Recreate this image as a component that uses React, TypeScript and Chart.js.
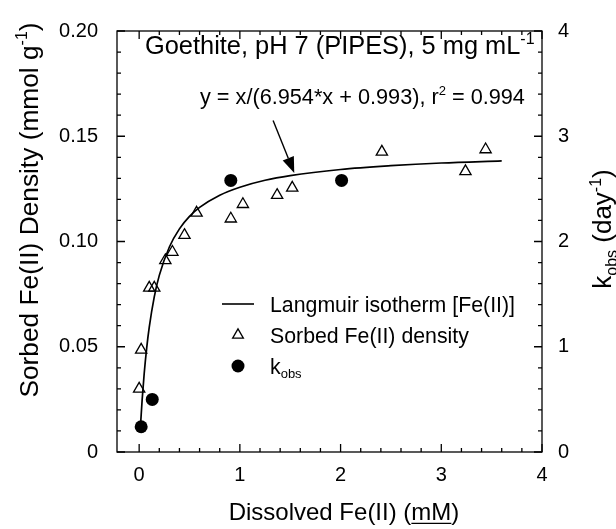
import React, { useEffect, useRef } from "react";
import { Chart, registerables } from "chart.js";

Chart.register(...registerables);

const FONT = '"Liberation Sans", Arial, Helvetica, sans-serif';

// Sorbed Fe(II) density (left axis, mmol/g) vs dissolved Fe(II) (mM)
const SORBED_X = [0.0, 0.02, 0.1, 0.15, 0.26, 0.33, 0.45, 0.57, 0.91, 1.03, 1.37, 1.52, 2.41, 3.24, 3.44];
const SORBED_Y = [0.03, 0.0485, 0.078, 0.078, 0.091, 0.095, 0.103, 0.1136, 0.1108, 0.1177, 0.122, 0.1255, 0.1426, 0.1333, 0.1437];

// k_obs (right axis, 1/day)
const KOBS_X = [0.02, 0.13, 0.91, 2.01];
const KOBS_Y = [0.24, 0.5, 2.58, 2.58];

// Langmuir isotherm curve
const FIT_X = [0.015, 0.03, 0.05, 0.075, 0.1, 0.15, 0.2, 0.3, 0.4, 0.5, 0.6, 0.8, 1.0, 1.25, 1.5, 2.0, 2.5, 3.0, 3.6];
const FIT_Y = [0.0137, 0.025, 0.0373, 0.0495, 0.0592, 0.0737, 0.0839, 0.0974, 0.106, 0.1119, 0.1162, 0.122, 0.1258, 0.1291, 0.1313, 0.1342, 0.136, 0.1373, 0.1383];

// axes
const X_RANGE = [-0.22, 4];
const Y_RANGE = [0, 0.2];
const K_RANGE = [0, 4];
const X_TICKS = [0, 1, 2, 3, 4];
const Y_TICKS = [0, 0.05, 0.1, 0.15, 0.2];
const K_TICKS = [0, 1, 2, 3, 4];
const X_MINOR = 0.2;
const Y_MINOR = 0.01;
const K_MINOR = 0.2;

// annotation arrow (data coords, left axis)
const ARROW_FROM = [1.33, 0.1575];
const ARROW_TO = [1.54, 0.1325];

type Seg = { t: string; mode?: "sup" | "sub" | "u" };

function fontFor(seg: Seg, size: number) {
  const s = seg.mode === "sup" || seg.mode === "sub" ? Math.round(size * 0.62) : size;
  return `${s}px ${FONT}`;
}

function drawRich(ctx: CanvasRenderingContext2D, segs: Seg[], x: number, y: number, size: number, align: "left" | "center") {
  const widths = segs.map((s) => {
    ctx.font = fontFor(s, size);
    return ctx.measureText(s.t).width;
  });
  const total = widths.reduce((a, b) => a + b, 0);
  let cx = align === "center" ? x - total / 2 : x;
  ctx.textAlign = "left";
  ctx.textBaseline = "alphabetic";
  segs.forEach((s, i) => {
    ctx.font = fontFor(s, size);
    const dy = s.mode === "sup" ? -size * 0.4 : s.mode === "sub" ? size * 0.22 : 0;
    ctx.fillText(s.t, cx, y + dy);
    if (s.mode === "u") {
      ctx.beginPath();
      ctx.lineWidth = 1.3;
      ctx.moveTo(cx, y + size * 0.14);
      ctx.lineTo(cx + widths[i], y + size * 0.14);
      ctx.stroke();
    }
    cx += widths[i];
  });
}

function minorValues(min: number, max: number, step: number) {
  const out: number[] = [];
  const n = Math.round((max - min) / step);
  for (let i = 0; i <= n; i++) out.push(+(min + i * step).toFixed(6));
  return out;
}

const decorPlugin = {
  id: "decor",
  afterDraw(chart: any) {
    const ctx: CanvasRenderingContext2D = chart.ctx;
    const { left, right, top, bottom } = chart.chartArea;
    const sx = chart.scales.x;
    const sy = chart.scales.y;
    const sk = chart.scales.y2;
    ctx.save();
    ctx.strokeStyle = "#000";
    ctx.fillStyle = "#000";
    ctx.lineWidth = 1.3;
    ctx.strokeRect(left, top, right - left, bottom - top);

    const MAJ = 8;
    const MIN = 4;
    ctx.beginPath();
    minorValues(0, X_RANGE[1], X_MINOR).forEach((v) => {
      const px = sx.getPixelForValue(v);
      const isMaj = X_TICKS.some((t) => Math.abs(t - v) < 1e-6);
      const L = isMaj ? MAJ : MIN;
      ctx.moveTo(px, bottom);
      ctx.lineTo(px, bottom - L);
      ctx.moveTo(px, top);
      ctx.lineTo(px, top + L);
    });
    minorValues(Y_RANGE[0], Y_RANGE[1], Y_MINOR).forEach((v) => {
      const py = sy.getPixelForValue(v);
      const isMaj = Y_TICKS.some((t) => Math.abs(t - v) < 1e-6);
      ctx.moveTo(left, py);
      ctx.lineTo(left + (isMaj ? MAJ : MIN), py);
    });
    minorValues(K_RANGE[0], K_RANGE[1], K_MINOR).forEach((v) => {
      const py = sk.getPixelForValue(v);
      const isMaj = K_TICKS.some((t) => Math.abs(t - v) < 1e-6);
      ctx.moveTo(right, py);
      ctx.lineTo(right - (isMaj ? MAJ : MIN), py);
    });
    ctx.stroke();

    // title inside plot
    drawRich(ctx, [{ t: "Goethite, pH 7 (PIPES), 5 mg mL" }, { t: "-1", mode: "sup" }], 145, 54, 25.4, "left");
    // equation
    drawRich(ctx, [{ t: "y = x/(6.954*x + 0.993), r" }, { t: "2", mode: "sup" }, { t: " = 0.994" }], 200, 104, 21.7, "left");

    // arrow
    const ax0 = sx.getPixelForValue(ARROW_FROM[0]);
    const ay0 = sy.getPixelForValue(ARROW_FROM[1]);
    const ax1 = sx.getPixelForValue(ARROW_TO[0]);
    const ay1 = sy.getPixelForValue(ARROW_TO[1]);
    const ang = Math.atan2(ay1 - ay0, ax1 - ax0);
    const HL = 16;
    const HW = 6;
    const bx = ax1 - HL * Math.cos(ang);
    const by = ay1 - HL * Math.sin(ang);
    ctx.beginPath();
    ctx.lineWidth = 1.4;
    ctx.moveTo(ax0, ay0);
    ctx.lineTo(bx, by);
    ctx.stroke();
    ctx.beginPath();
    ctx.moveTo(ax1, ay1);
    ctx.lineTo(bx + HW * Math.sin(ang), by - HW * Math.cos(ang));
    ctx.lineTo(bx - HW * Math.sin(ang), by + HW * Math.cos(ang));
    ctx.closePath();
    ctx.fill();

    // legend
    const LX = 238;
    const TX = 270;
    const rows = [304, 335, 366];
    const LS = 21.3;
    ctx.beginPath();
    ctx.lineWidth = 1.6;
    ctx.moveTo(222, rows[0]);
    ctx.lineTo(254, rows[0]);
    ctx.stroke();
    drawRich(ctx, [{ t: "Langmuir isotherm [Fe(II)]" }], TX, rows[0] + 7.5, LS, "left");
    const r = 6.2;
    ctx.beginPath();
    ctx.lineWidth = 1.3;
    ctx.moveTo(LX, rows[1] - r);
    ctx.lineTo(LX + r * Math.sin((2 * Math.PI) / 3), rows[1] - r * Math.cos((2 * Math.PI) / 3));
    ctx.lineTo(LX + r * Math.sin((4 * Math.PI) / 3), rows[1] - r * Math.cos((4 * Math.PI) / 3));
    ctx.closePath();
    ctx.stroke();
    drawRich(ctx, [{ t: "Sorbed Fe(II) density" }], TX, rows[1] + 7.5, LS, "left");
    ctx.beginPath();
    ctx.arc(LX, rows[2], 6.5, 0, Math.PI * 2);
    ctx.fill();
    drawRich(ctx, [{ t: "k" }, { t: "obs", mode: "sub" }], TX, rows[2] + 7.5, LS, "left");

    // x-axis title
    drawRich(ctx, [{ t: "Dissolved Fe(II) (" }, { t: "mM", mode: "u" }, { t: ")" }], 344, 520, 24, "center");

    // left y title
    ctx.save();
    ctx.translate(38, 210);
    ctx.rotate(-Math.PI / 2);
    drawRich(ctx, [{ t: "Sorbed Fe(II) Density (mmol g" }, { t: "-1", mode: "sup" }, { t: ")" }], 0, 0, 26.3, "center");
    ctx.restore();

    // right y title
    ctx.save();
    ctx.translate(611, 229);
    ctx.rotate(-Math.PI / 2);
    drawRich(ctx, [{ t: "k" }, { t: "obs", mode: "sub" }, { t: " (day" }, { t: "-1", mode: "sup" }, { t: ")" }], 0, 0, 26, "center");
    ctx.restore();

    ctx.restore();
  },
};

export default function App() {
  const ref = useRef<HTMLCanvasElement>(null);
  useEffect(() => {
    document.body.style.margin = "0";
    const canvas = ref.current!;
    const tickFont = { family: FONT, size: 20 };
    const chart = new Chart(canvas, {
      type: "scatter",
      data: {
        datasets: [
          {
            label: "Langmuir isotherm [Fe(II)]",
            data: FIT_X.map((x, i) => ({ x, y: FIT_Y[i] })),
            showLine: true,
            borderColor: "#000",
            borderWidth: 1.7,
            pointRadius: 0,
            cubicInterpolationMode: "monotone",
            yAxisID: "y",
          },
          {
            label: "Sorbed Fe(II) density",
            data: SORBED_X.map((x, i) => ({ x, y: SORBED_Y[i] })),
            pointStyle: "triangle",
            pointRadius: 6.5,
            borderWidth: 1.3,
            borderColor: "#000",
            backgroundColor: "rgba(0,0,0,0)",
            yAxisID: "y",
          },
          {
            label: "kobs",
            data: KOBS_X.map((x, i) => ({ x, y: KOBS_Y[i] })),
            pointStyle: "circle",
            pointRadius: 6.5,
            borderWidth: 0,
            backgroundColor: "#000",
            yAxisID: "y2",
          },
        ],
      },
      options: {
        responsive: false,
        animation: false,
        layout: { padding: { top: 20, left: 0, right: 0, bottom: 0 } },
        plugins: { legend: { display: false }, tooltip: { enabled: false } },
        scales: {
          x: {
            type: "linear",
            min: X_RANGE[0],
            max: X_RANGE[1],
            grid: { display: false, drawTicks: false },
            border: { display: false },
            afterBuildTicks: (s: any) => {
              s.ticks = X_TICKS.map((v) => ({ value: v }));
            },
            afterFit: (s: any) => {
              s.height = 77;
            },
            ticks: { font: tickFont, color: "#000", padding: 11, maxRotation: 0, callback: (v: any) => String(v) },
          },
          y: {
            type: "linear",
            position: "left",
            min: Y_RANGE[0],
            max: Y_RANGE[1],
            grid: { display: false, drawTicks: false },
            border: { display: false },
            afterBuildTicks: (s: any) => {
              s.ticks = Y_TICKS.map((v) => ({ value: v }));
            },
            afterFit: (s: any) => {
              s.width = 117;
            },
            ticks: {
              font: tickFont,
              color: "#000",
              padding: 19,
              callback: (v: any) => (v === 0 ? "0" : Number(v).toFixed(2)),
            },
          },
          y2: {
            type: "linear",
            position: "right",
            min: K_RANGE[0],
            max: K_RANGE[1],
            grid: { display: false, drawTicks: false },
            border: { display: false },
            afterBuildTicks: (s: any) => {
              s.ticks = K_TICKS.map((v) => ({ value: v }));
            },
            afterFit: (s: any) => {
              s.width = 74;
            },
            ticks: { font: tickFont, color: "#000", padding: 16, callback: (v: any) => String(v) },
          },
        },
      },
      plugins: [decorPlugin],
    });
    return () => chart.destroy();
  }, []);
  return <canvas ref={ref} width={616} height={529} style={{ display: "block" }} />;
}
